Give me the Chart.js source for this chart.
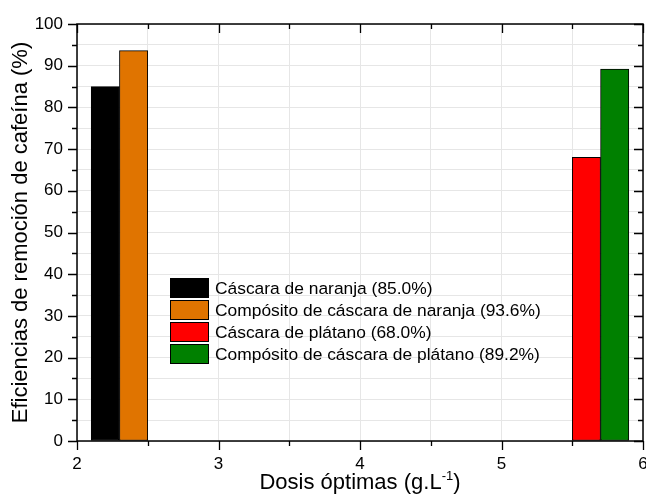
<!DOCTYPE html>
<html>
<head>
<meta charset="utf-8">
<script src="https://cdn.jsdelivr.net/npm/chart.js@4.4.0/dist/chart.umd.min.js"></script>
<style>
  body { margin: 0; background: #fff; font-family: "Liberation Sans", Arial, sans-serif; }
  #wrap { position: relative; width: 646px; height: 496px; overflow: hidden; }
  #legend { position: absolute; left: 170px; top: 277px; }
  .row { display: flex; align-items: center; height: 22px; }
  .sw { width: 37px; height: 18px; border: 1px solid #000; box-sizing: content-box; }
  .lt { margin-left: 6px; font-size: 17.4px; color: #000; white-space: nowrap; }
  #xtitle { position: absolute; left: 77px; width: 566px; top: 469px; text-align: center; font-size: 22px; line-height: 26px; color: #000; }
  #xtitle sup { font-size: 13px; vertical-align: 9px; line-height: 0; }
</style>
</head>
<body>
<div id="wrap">
  <canvas id="chart" width="646" height="496"></canvas>
  <div id="legend"></div>
  <div id="xtitle">Dosis óptimas (g.L<sup>-1</sup>)</div>
</div>
<script>
// series: one bar each, placed at its dose
const seriesLabels = [
  "Cáscara de naranja (85.0%)",
  "Compósito de cáscara de naranja (93.6%)",
  "Cáscara de plátano (68.0%)",
  "Compósito de cáscara de plátano (89.2%)"
];
const doses = [2.2, 2.4, 5.6, 5.8];
const efficiencies = [85.0, 93.6, 68.0, 89.2];
const barColors = ["#000000", "#e07400", "#ff0000", "#008000"];

const xMin = 2, xMax = 6, xStep = 0.5;
const yMin = 0, yMax = 100, yStep = 5;

const FONT = "'Liberation Sans', Arial, sans-serif";

// ticks on all four sides (outward on left/bottom, inward on top/right)
const frameTicks = {
  id: "frameTicks",
  afterDraw(chart) {
    const ctx = chart.ctx;
    const a = chart.chartArea;
    const xs = chart.scales.x, ys = chart.scales.y;
    ctx.save();
    ctx.strokeStyle = "#000";
    ctx.lineWidth = 1.5;
    ctx.strokeRect(a.left, a.top, a.right - a.left, a.bottom - a.top);
    ctx.lineWidth = 1.3;
    ctx.beginPath();
    for (let v = yMin; v <= yMax + 0.001; v += yStep) {
      const y = Math.round(ys.getPixelForValue(v)) + 0.5;
      const len = (Math.round(v) % 10 === 0) ? 9 : 5;
      ctx.moveTo(a.left - len, y); ctx.lineTo(a.left, y);
      ctx.moveTo(a.right, y); ctx.lineTo(a.right - len, y);
    }
    for (let v = xMin; v <= xMax + 0.001; v += xStep) {
      const x = Math.round(xs.getPixelForValue(v)) + 0.5;
      const len = Number.isInteger(v) ? 9 : 5;
      ctx.moveTo(x, a.bottom); ctx.lineTo(x, a.bottom + len);
      ctx.moveTo(x, a.top); ctx.lineTo(x, a.top + len);
    }
    ctx.stroke();
    ctx.restore();
  }
};

new Chart(document.getElementById("chart"), {
  type: "bar",
  data: {
    datasets: seriesLabels.map((lbl, i) => ({
      label: lbl,
      data: [{ x: doses[i], y: efficiencies[i] }],
      backgroundColor: barColors[i],
      borderColor: "#000",
      borderWidth: 1,
      borderSkipped: false,
      barThickness: 28.3,
      grouped: false
    }))
  },
  options: {
    responsive: false,
    animation: false,
    layout: { padding: { top: 24, right: 3, left: 0, bottom: 0 } },
    plugins: { legend: { display: false }, tooltip: { enabled: false } },
    scales: {
      x: {
        type: "linear",
        offset: false,
        min: xMin, max: xMax,
        ticks: {
          stepSize: xStep,
          padding: 13,
          color: "#000",
          font: { family: FONT, size: 17 },
          maxRotation: 0,
          autoSkip: false,
          callback: v => Number.isInteger(v) ? String(v) : ""
        },
        grid: { color: "#e6e6e6", lineWidth: 1, drawTicks: false, offset: false },
        border: { display: false },
        afterFit(s) { s.height = 55; s.paddingLeft = 0; s.paddingRight = 0; }
      },
      y: {
        min: yMin, max: yMax,
        ticks: {
          stepSize: yStep,
          padding: 14,
          color: "#000",
          font: { family: FONT, size: 17 },
          autoSkip: false,
          callback: v => (v % 10 === 0) ? String(v) : ""
        },
        grid: { color: "#e6e6e6", lineWidth: 1, drawTicks: false },
        border: { display: false },
        title: {
          display: true,
          text: "Eficiencias de remoción de cafeína (%)",
          color: "#000",
          font: { family: FONT, size: 22 },
          padding: { top: 8, bottom: 0 }
        },
        afterFit(s) { s.width = 77; s.paddingTop = 0; s.paddingBottom = 0; }
      }
    }
  },
  plugins: [frameTicks]
});

// legend built from the same arrays
const legend = document.getElementById("legend");
seriesLabels.forEach((lbl, i) => {
  const row = document.createElement("div");
  row.className = "row";
  row.innerHTML = '<div class="sw" style="background:' + barColors[i] + '"></div><span class="lt"></span>';
  row.querySelector(".lt").textContent = lbl;
  legend.appendChild(row);
});
</script>
</body>
</html>
